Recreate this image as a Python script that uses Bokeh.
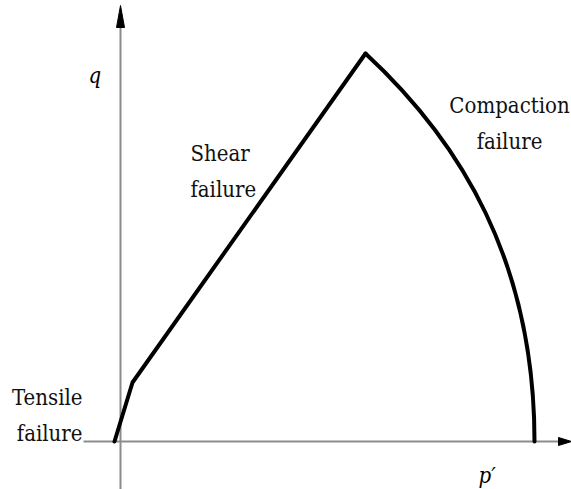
from bokeh.plotting import figure
from bokeh.models import Range1d
from bokeh.core.properties import value
from bokeh.embed import file_html
from bokeh.resources import INLINE

# Failure envelope in the p'-q plane (stress units, origin at the axes crossing)
tensile_shear_p = [-6, 12, 245]
tensile_shear_q = [0, 59, 388]

# Compaction cap: cubic Bezier from the shear peak down to the p' axis
cap_start = (245, 388)
cap_end = (414, 0)
cap_ctrl1 = (340, 300)
cap_ctrl2 = (414, 180)

# Region labels: (lines, x, y of first baseline, alignment)
region_labels = [
    (["Tensile", "failure"], -38, 44, "right"),
    (["Shear", "failure"], 70, 288, "left"),
    (["Compaction", "failure"], 389, 336, "center"),
]
line_gap = 36

axis_p_min, axis_p_max = -37, 451
axis_q_min, axis_q_max = -48, 436
head_len, head_half = 13, 4

FONT = "DejaVu Serif Condensed"
FONT_SIZE = "22px"
AXIS_COLOR = "#8c8c8c"

p = figure(width=571, height=489, output_backend="svg", toolbar_location=None,
           x_range=Range1d(-120, 451), y_range=Range1d(-48, 441),
           x_axis_location=None, y_axis_location=None, min_border=0)
p.grid.visible = False
p.outline_line_color = None
p.background_fill_color = "white"
p.border_fill_color = "white"

# Axes with arrowheads
p.line([axis_p_min, axis_p_max - head_len], [0, 0], line_color=AXIS_COLOR, line_width=2)
p.line([0, 0], [axis_q_min, axis_q_max - head_len - 8], line_color=AXIS_COLOR, line_width=2)
p.patch([axis_p_max, axis_p_max - head_len, axis_p_max - head_len],
        [0, head_half, -head_half], fill_color="black", line_color="black", line_width=1)
p.patch([0, -head_half, head_half],
        [axis_q_max, axis_q_max - head_len - 9, axis_q_max - head_len - 9],
        fill_color="black", line_color="black", line_width=1)

# Envelope: tensile cut-off + shear line, then compaction cap
p.line(tensile_shear_p, tensile_shear_q, line_color="black", line_width=4,
       line_join="round", line_cap="round")
p.bezier(x0=[cap_start[0]], y0=[cap_start[1]], x1=[cap_end[0]], y1=[cap_end[1]],
         cx0=[cap_ctrl1[0]], cy0=[cap_ctrl1[1]], cx1=[cap_ctrl2[0]], cy1=[cap_ctrl2[1]],
         line_color="black", line_width=4, line_cap="round")

# Axis titles
p.text(x=[-32], y=[366], text=["q"], text_font=value(FONT), text_font_style="italic",
       text_font_size=FONT_SIZE, text_color="black", text_baseline="alphabetic")
p.text(x=[358], y=[-34], text=["p\u2032"], text_font=value(FONT), text_font_style="italic",
       text_font_size=FONT_SIZE, text_color="black", text_baseline="alphabetic")

for lines, x0, y0, align in region_labels:
    for i, t in enumerate(lines):
        p.text(x=[x0], y=[y0 - i * line_gap], text=[t], text_font=value(FONT),
               text_font_size=FONT_SIZE, text_color="#111111", text_align=align,
               text_baseline="alphabetic")

open("out.html", "w").write(file_html(p, INLINE))
